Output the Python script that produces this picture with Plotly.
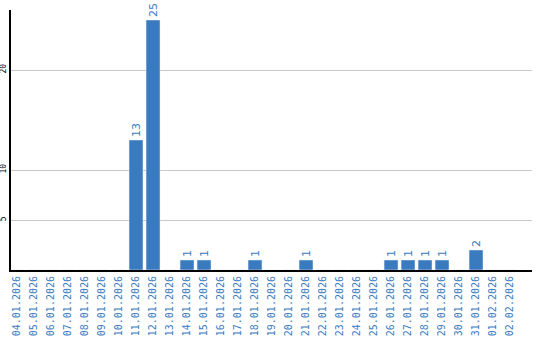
import plotly.graph_objects as go

dates = ["04.01.2026", "05.01.2026", "06.01.2026", "07.01.2026", "08.01.2026",
         "09.01.2026", "10.01.2026", "11.01.2026", "12.01.2026", "13.01.2026",
         "14.01.2026", "15.01.2026", "16.01.2026", "17.01.2026", "18.01.2026",
         "19.01.2026", "20.01.2026", "21.01.2026", "22.01.2026", "23.01.2026",
         "24.01.2026", "25.01.2026", "26.01.2026", "27.01.2026", "28.01.2026",
         "29.01.2026", "30.01.2026", "31.01.2026", "01.02.2026", "02.02.2026"]
values = [0, 0, 0, 0, 0, 0, 0, 13, 25, 0,
          1, 1, 0, 0, 1, 0, 0, 1, 0, 0,
          0, 0, 1, 1, 1, 1, 0, 2, 0, 0]
y_ticks = [5, 10, 20]

blue = "#3a7bbf"
texts = [str(v) if v > 0 else "" for v in values]

fig = go.Figure(go.Bar(
    x=dates, y=values, marker_color=blue, width=0.82,
    text=texts, textposition="outside", textangle=-90,
    textfont=dict(color=blue, size=11, family="DejaVu Sans"),
    cliponaxis=False, hoverinfo="skip",
))
fig.update_layout(
    width=540, height=340,
    margin=dict(l=11, r=8, t=10, b=70),
    plot_bgcolor="white", paper_bgcolor="white",
    showlegend=False,
    uniformtext=dict(minsize=11, mode="show"),
)
fig.update_xaxes(
    type="category", range=[-0.353, 30.29], automargin=False,
    tickangle=-90, tickfont=dict(color=blue, size=10, family="DejaVu Sans Mono"),
    showline=True, linecolor="black", linewidth=2,
    showgrid=False, ticks="", ticklen=0,
)
fig.update_yaxes(
    range=[0, 26], tickvals=y_ticks, ticktext=[str(t) for t in y_ticks],
    automargin=False,
    tickangle=-90, tickfont=dict(color="black", size=8, family="DejaVu Sans Mono"),
    showline=True, linecolor="black", linewidth=2,
    showgrid=True, gridcolor="#c8c8c8", gridwidth=1,
    zeroline=False, ticks="",
)
fig.write_html("out.html")
